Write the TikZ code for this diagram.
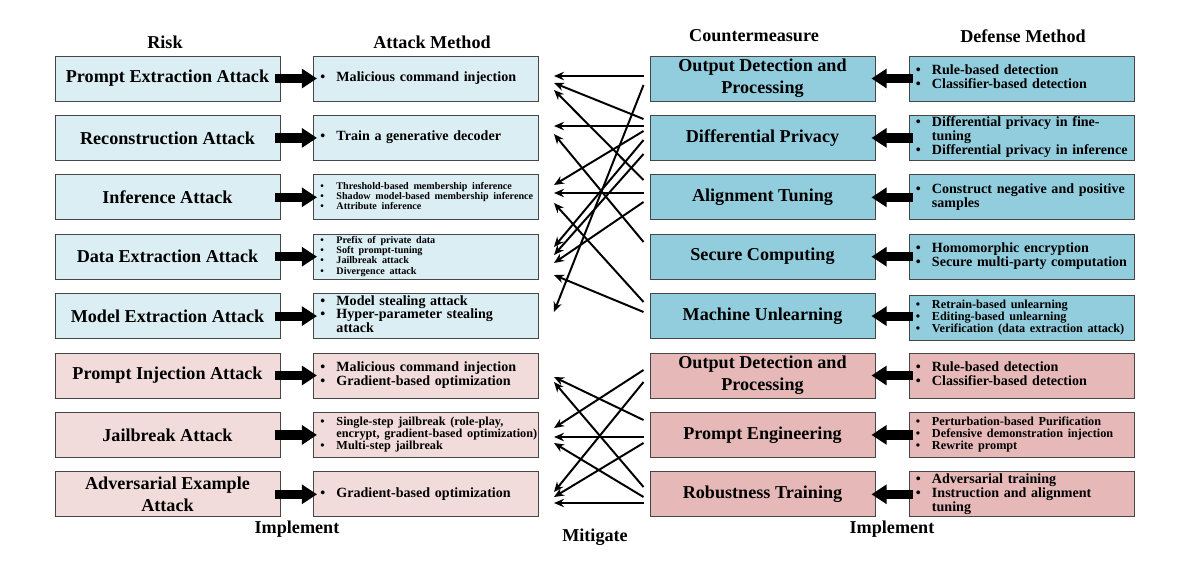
\documentclass[tikz,border=0pt]{standalone}
\usepackage{fontspec}
\setmainfont{Liberation Serif}
\usepackage{array}
\usetikzlibrary{arrows.meta, positioning, calc}
\definecolor{riskblue}{RGB}{219, 238, 244}
\definecolor{cmblue}{RGB}{146, 205, 221}
\definecolor{riskpink}{RGB}{242, 220, 219}
\definecolor{cmpink}{RGB}{230, 185, 184}
\definecolor{edgegray}{RGB}{70, 70, 70}
\newcommand{\sztitle}{\fontsize{12.9}{15.6}\selectfont\bfseries}
\newcommand{\szlarge}{\fontsize{10}{9.8}\selectfont\bfseries}
\newcommand{\szmid}{\fontsize{8.7}{8.6}\selectfont\bfseries}
\newcommand{\szsmall}{\fontsize{7.2}{7.3}\selectfont\bfseries}
\newcommand{\blist}[2]{#1\begin{tabular}{@{}p{0.4cm}@{}l@{}}#2\end{tabular}}
\newcommand{\itm}{\textbullet &}

\begin{document}
\begin{tikzpicture}[
    x=0.025cm, y=-0.025cm,
    risk/.style={rectangle, draw=edgegray, line width=0.65pt, minimum width=5.625cm, minimum height=1.125cm, inner sep=0pt, align=center, font=\sztitle},
    method/.style={rectangle, draw=edgegray, line width=0.65pt, text width=5.275cm, inner xsep=0.175cm, inner ysep=0pt, minimum height=1.125cm, align=left},
    head/.style={font=\sztitle},
    blockarrow/.style={line width=0.23cm, -{Triangle[length=0.38cm, width=0.47cm]}},
    mitarrow/.style={line width=1.4pt, -{Stealth[length=0.25cm, width=0.21cm]}}
]
    \useasboundingbox (0,0) rectangle (1189,567);

    % Headers
    \node[head] (hrisk) at (165,42) {Risk};
    \node[head] (hattack) at (432,42) {Attack Method};
    \node[head] (hcounter) at (754,36) {Countermeasure};
    \node[head] (hdefense) at (1023,36) {Defense Method};

    % Risks
    \node[risk, fill=riskblue] (r1) at (167.5,78.5) {Prompt Extraction Attack};
    \node[risk, fill=riskblue] (r2) at (167.5,137.9) {Reconstruction Attack};
    \node[risk, fill=riskblue] (r3) at (167.5,197.3) {Inference Attack};
    \node[risk, fill=riskblue] (r4) at (167.5,256.7) {Data Extraction Attack};
    \node[risk, fill=riskblue] (r5) at (167.5,316.1) {Model Extraction Attack};
    \node[risk, fill=riskpink] (r6) at (167.5,375.5) {Prompt Injection Attack};
    \node[risk, fill=riskpink] (r7) at (167.5,434.9) {Jailbreak Attack};
    \node[risk, fill=riskpink] (r8) at (167.5,494.3) {Adversarial Example\\Attack};

    % Attack methods
    \node[method, fill=riskblue] (a1) at (426,78.5) {\blist{\szlarge}{\itm Malicious command injection}};
    \node[method, fill=riskblue] (a2) at (426,137.9) {\blist{\szlarge}{\itm Train a generative decoder}};
    \node[method, fill=riskblue] (a3) at (426,197.3) {\blist{\szsmall}{\itm Threshold-based membership inference\\ \itm Shadow model-based membership inference\\ \itm Attribute inference}};
    \node[method, fill=riskblue] (a4) at (426,256.7) {\blist{\szsmall}{\itm Prefix of private data\\ \itm Soft prompt-tuning\\ \itm Jailbreak attack\\ \itm Divergence attack}};
    \node[method, fill=riskblue] (a5) at (426,316.1) {\blist{\szlarge}{\itm Model stealing attack\\ \itm Hyper-parameter stealing\\ & attack}};
    \node[method, fill=riskpink] (a6) at (426,375.5) {\blist{\szlarge}{\itm Malicious command injection\\ \itm Gradient-based optimization}};
    \node[method, fill=riskpink] (a7) at (426,434.9) {\blist{\szmid}{\itm Single-step jailbreak (role-play,\\ & encrypt, gradient-based optimization)\\ \itm Multi-step jailbreak}};
    \node[method, fill=riskpink] (a8) at (426,494.3) {\blist{\szlarge}{\itm Gradient-based optimization}};

    % Countermeasures
    \node[risk, fill=cmblue] (c1) at (762.5,78.5) {Output Detection and\\Processing};
    \node[risk, fill=cmblue] (c2) at (762.5,137.9) {Differential Privacy};
    \node[risk, fill=cmblue] (c3) at (762.5,197.3) {Alignment Tuning};
    \node[risk, fill=cmblue] (c4) at (762.5,256.7) {Secure Computing};
    \node[risk, fill=cmblue] (c5) at (762.5,316.1) {Machine Unlearning};
    \node[risk, fill=cmpink] (c6) at (762.5,375.5) {Output Detection and\\Processing};
    \node[risk, fill=cmpink] (c7) at (762.5,434.9) {Prompt Engineering};
    \node[risk, fill=cmpink] (c8) at (762.5,494.3) {Robustness Training};

    % Defense methods
    \node[method, fill=cmblue] (d1) at (1021.5,78.5) {\blist{\szlarge}{\itm Rule-based detection\\ \itm Classifier-based detection}};
    \node[method, fill=cmblue] (d2) at (1021.5,137.9) {\blist{\szlarge}{\itm Differential privacy in fine-\\ & tuning\\ \itm Differential privacy in inference}};
    \node[method, fill=cmblue] (d3) at (1021.5,197.3) {\blist{\szlarge}{\itm Construct negative and positive\\ & samples}};
    \node[method, fill=cmblue] (d4) at (1021.5,256.7) {\blist{\szlarge}{\itm Homomorphic encryption\\ \itm Secure multi-party computation}};
    \node[method, fill=cmblue] (d5) at (1021.5,318.1) {\blist{\szmid}{\itm Retrain-based unlearning\\ \itm Editing-based unlearning\\ \itm Verification (data extraction attack)}};
    \node[method, fill=cmpink] (d6) at (1021.5,375.5) {\blist{\szlarge}{\itm Rule-based detection\\ \itm Classifier-based detection}};
    \node[method, fill=cmpink] (d7) at (1021.5,434.9) {\blist{\szmid}{\itm Perturbation-based Purification\\ \itm Defensive demonstration injection\\ \itm Rewrite prompt}};
    \node[method, fill=cmpink] (d8) at (1021.5,494.3) {\blist{\szlarge}{\itm Adversarial training\\ \itm Instruction and alignment\\ & tuning}};

    % Footers
    \node[head] (impl1) at (297,529) {Implement};
    \node[head] (mitig) at (595,537) {Mitigate};
    \node[head] (impl2) at (892,529) {Implement};

    % Implement arrows
    \foreach \i in {1,...,8} {
        \draw[blockarrow] ($(r\i.east)+(-5,0)$) -- ($(a\i.west)+(4,0)$);
        \draw[blockarrow] ($(d\i.west |- c\i.east)+(4,0)$) -- ($(c\i.east)+(-4,0)$);
    }

    % Mitigate arrows
    \foreach \s/\sy/\t/\ty in {c1/-2.5/a1/-2.5, c1/6.5/a5/-4.1, c2/-18.9/a1/4.5, c2/-11.9/a2/-11.9,
        c2/-6.9/a3/-12.3, c2/2.1/a4/-9.7, c2/16.1/a4/-1.7, c3/-17.3/a1/11.5, c3/-4.3/a3/-4.3,
        c3/4.7/a4/6.3, c4/-14.7/a2/-3.9, c5/-14.1/a3/5.7, c5/-4.1/a4/18.3,
        c6/-5.5/a7/-6.9, c6/6.5/a8/-2.3, c7/-14.9/a6/1.5, c7/2.1/a7/2.1, c7/8.1/a8/2.7,
        c8/-7.3/a6/6.5, c8/2.7/a7/8.1, c8/8.7/a8/8.7}
        \draw[mitarrow] ($(\s.west)+(-6,\sy)$) -- ($(\t.east)+(15,\ty)$);
\end{tikzpicture}
\end{document}
